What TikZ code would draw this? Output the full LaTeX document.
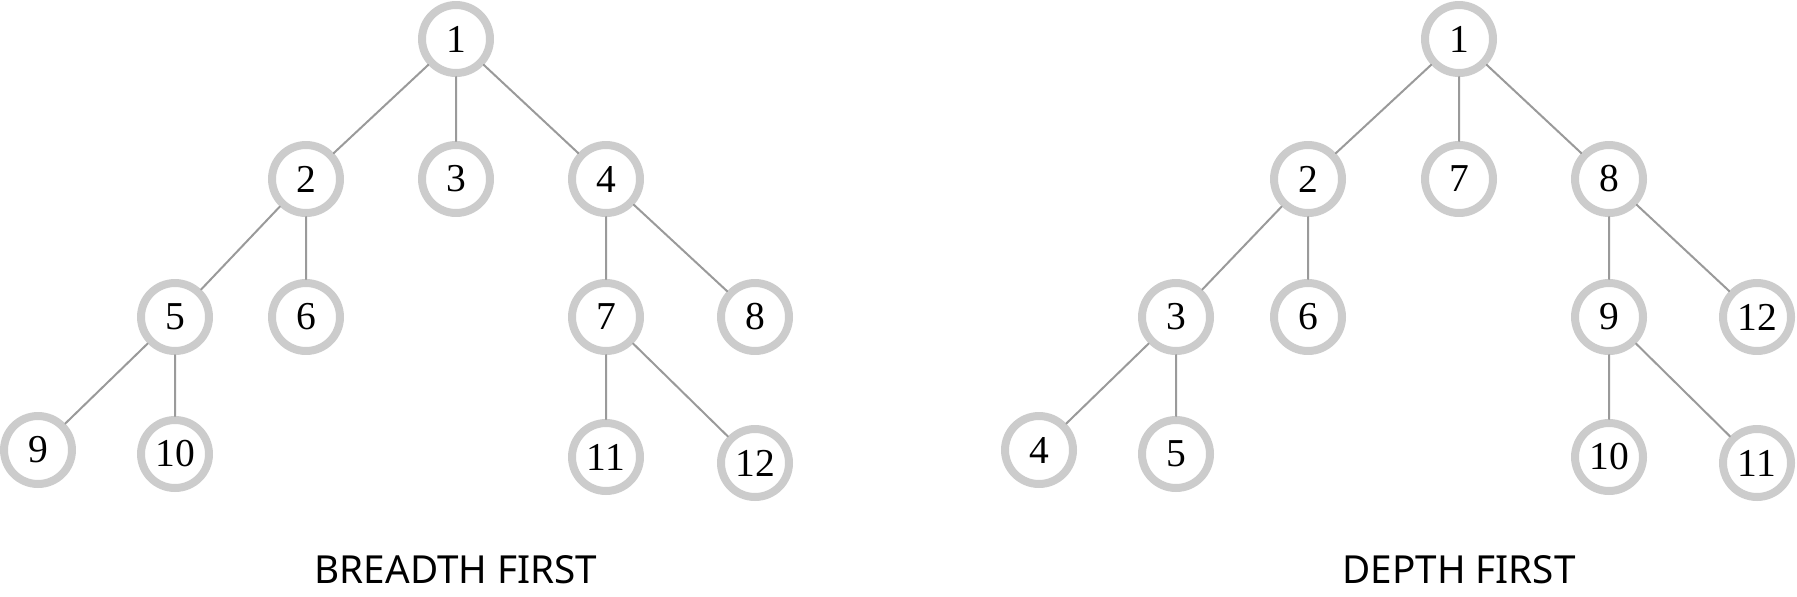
\documentclass[tikz,border=0pt]{standalone}
\usepackage{fontspec}
\newfontfamily\capfont{Noto Sans}
\newfontfamily\numfont{Liberation Serif}
\definecolor{ringgray}{HTML}{CCCCCC}
\definecolor{edgegray}{HTML}{9A9A9A}
\tikzset{
  every picture/.style={line cap=round, line join=round},
  vertex/.style={circle, draw=ringgray, line width=0.16cm, fill=white,
    minimum size=1.36cm, inner sep=0pt, font=\numfont\fontsize{22.5}{26}\selectfont},
  branch/.style={edgegray, line width=0.04cm},
  caption/.style={font=\capfont\fontsize{22}{26}\selectfont},
}
\begin{document}
\begin{tikzpicture}[x=0.02cm, y=-0.02cm]
  \useasboundingbox (0,0) rectangle (1797,596);
  % breadth first tree
  \node[vertex] (b1)  at (456,39)  {1};
  \node[vertex] (b2)  at (306,179) {2};
  \node[vertex] (b3)  at (456,179) {3};
  \node[vertex] (b4)  at (606,179) {4};
  \node[vertex] (b5)  at (175,317) {5};
  \node[vertex] (b6)  at (306,317) {6};
  \node[vertex] (b7)  at (606,317) {7};
  \node[vertex] (b8)  at (755,317) {8};
  \node[vertex] (b9)  at (38,450)  {9};
  \node[vertex] (b10) at (175,454) {10};
  \node[vertex] (b11) at (606,457) {11};
  \node[vertex] (b12) at (755,463) {12};
  \draw[branch] (b1) -- (b2) (b1) -- (b3) (b1) -- (b4);
  \draw[branch] (b2) -- (b5) (b2) -- (b6);
  \draw[branch] (b4) -- (b7) (b4) -- (b8);
  \draw[branch] (b5) -- (b9) (b5) -- (b10);
  \draw[branch] (b7) -- (b11) (b7) -- (b12);
  \node[caption] (bcap) at (456,570) {BREADTH FIRST};
  % depth first tree
  \node[vertex] (d1)  at (1459,39)  {1};
  \node[vertex] (d2)  at (1308,179) {2};
  \node[vertex] (d7)  at (1459,179) {7};
  \node[vertex] (d8)  at (1609,179) {8};
  \node[vertex] (d3)  at (1176,317) {3};
  \node[vertex] (d6)  at (1308,317) {6};
  \node[vertex] (d9)  at (1609,317) {9};
  \node[vertex] (d12) at (1757,317) {12};
  \node[vertex] (d4)  at (1039,450) {4};
  \node[vertex] (d5)  at (1176,454) {5};
  \node[vertex] (d10) at (1609,457) {10};
  \node[vertex] (d11) at (1757,463) {11};
  \draw[branch] (d1) -- (d2) (d1) -- (d7) (d1) -- (d8);
  \draw[branch] (d2) -- (d3) (d2) -- (d6);
  \draw[branch] (d3) -- (d4) (d3) -- (d5);
  \draw[branch] (d8) -- (d9) (d8) -- (d12);
  \draw[branch] (d9) -- (d10) (d9) -- (d11);
  \node[caption] (dcap) at (1459,570) {DEPTH FIRST};
\end{tikzpicture}
\end{document}
